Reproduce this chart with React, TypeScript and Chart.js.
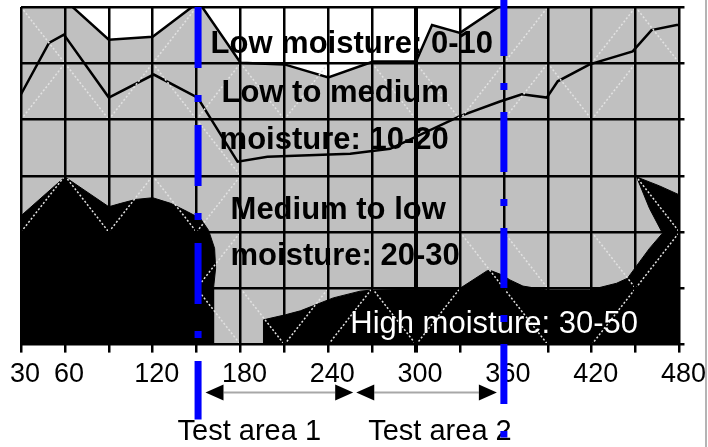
import React, { useEffect, useRef } from 'react';
import { Chart, registerables } from 'chart.js';

Chart.register(...registerables);

// ---- axis ----
const xMin = 30;
const xMax = 480;
const xStep = 30;
const shownTickLabels = [30, 60, 120, 180, 240, 300, 360, 420, 480];
const thickGridAt = 300;

// ---- boundary between "Low moisture" (white) and the grey zones ----
const lowBoundaryX = [30, 61.4, 90, 120, 151.4, 180, 210, 240, 270.7, 300, 310.9, 330, 358.6, 384.5, 480];
const lowBoundaryY = [-8, -0.9, 5.8, 5.3, -0.9, 9.9, 10.2, 12.5, 9.7, 9.7, 3.2, 4.6, -0.4, -4.8, -8];

// ---- line between "Low to medium" and "Medium to low" ----
const midLineX = [30, 49.1, 59.3, 90, 120.7, 150.7, 178, 198.4, 255, 282.3, 330, 357.3, 372.3, 389.3, 396.8, 418.6, 448, 460.9, 478, 480];
const midLineY = [15.5, 6.4, 4.9, 16.1, 12, 16.1, 27.5, 26.6, 26.1, 25.2, 19.4, 16.8, 15.5, 16.1, 13.2, 10.2, 7.9, 4.1, 3.2, 3.2];

// ---- boundary of "High moisture" (black) zone ----
const highBoundaryX = [30, 60, 90, 98.2, 108.4, 120, 132.3, 143.9, 152.7, 158.2, 162.3, 163, 161.6, 161.6, 195.7, 195.7, 210.7, 220.9, 243.4, 261.8, 270, 330, 348.4, 350.5, 358.6, 364.1, 373, 389.3, 418.6, 437, 444.5, 459.5, 468.4, 459.5, 450.7, 466.4, 480];
const highBoundaryY = [37.1, 30.2, 35.5, 34.9, 34.2, 33.9, 34.9, 36.4, 37.6, 39.7, 42.9, 46.4, 49.9, 60, 60, 55.6, 54.7, 54, 51.7, 50.5, 50.3, 50, 46.9, 46.8, 47.6, 48.5, 49.6, 50.3, 50.3, 49.1, 48.2, 42.9, 40.2, 35.8, 30.2, 31.8, 33.4];

// ---- faint surface mesh diagonals per grid row (a = rising, d = falling, . = none) ----
const meshRows = [
  'd..a.......a.ad',
  'adadada.ddaada.',
  '....d..........',
  'adada.........d',
  '....a.....dd.da',
  '....ddaada.d.a.',
];
const meshRowStep = 10;

// ---- zone labels ----
const zoneLabels = ['Low moisture: 0-10', 'Low to medium', 'moisture: 10-20', 'Medium to low', 'moisture: 20-30'];
const zoneLabelX = [159.5, 167, 165.7, 173.2, 173.2];
const zoneLabelY = [8.1, 16.9, 25.2, 37.6, 45.9];
const highLabel = 'High moisture: 30-50';
const highLabelX = 255;
const highLabelY = 57.9;

// ---- test areas ----
const testLineX = [151, 360];
const areaNames = ['Test area 1', 'Test area 2'];
const areaArrowFrom = [156.1, 259.1];
const areaArrowTo = [257, 355.2];
const areaLabelX = [137, 267.3];

const toPoints = (xs: number[], ys: number[]) => xs.map((x, i) => ({ x, y: ys[i] }));

const meshPoints = (() => {
  const pts: { x: number; y: number | null }[] = [];
  meshRows.forEach((row, r) => {
    row.split('').forEach((c, col) => {
      if (c === '.') return;
      const x0 = xMin + col * xStep;
      const x1 = x0 + xStep;
      const top = r * meshRowStep;
      const bot = (r + 1) * meshRowStep;
      if (c === 'a') {
        pts.push({ x: x0, y: bot }, { x: x1, y: top });
      } else {
        pts.push({ x: x0, y: top }, { x: x1, y: bot });
      }
      pts.push({ x: x1, y: null });
    });
  });
  return pts;
})();

const FONT = '"Liberation Sans", Arial, sans-serif';

function drawArrow(ctx: CanvasRenderingContext2D, x1: number, x2: number, y: number) {
  const hl = 18;
  const hh = 8;
  ctx.save();
  ctx.strokeStyle = '#a8a8a8';
  ctx.lineWidth = 2;
  ctx.beginPath();
  ctx.moveTo(x1 + hl, y);
  ctx.lineTo(x2 - hl, y);
  ctx.stroke();
  ctx.fillStyle = '#000';
  ctx.beginPath();
  ctx.moveTo(x1, y);
  ctx.lineTo(x1 + hl, y - hh);
  ctx.lineTo(x1 + hl, y + hh);
  ctx.closePath();
  ctx.fill();
  ctx.beginPath();
  ctx.moveTo(x2, y);
  ctx.lineTo(x2 - hl, y - hh);
  ctx.lineTo(x2 - hl, y + hh);
  ctx.closePath();
  ctx.fill();
  ctx.restore();
}

const annotationPlugin = {
  id: 'moistureAnnotations',
  beforeDraw(chart: any) {
    const { ctx, chartArea: a } = chart;
    ctx.save();
    ctx.fillStyle = '#c0c0c0';
    ctx.fillRect(a.left, a.top, a.right - a.left, a.bottom - a.top);
    ctx.restore();
  },
  afterDraw(chart: any) {
    const { ctx, chartArea: a } = chart;
    const xs = chart.scales.x;
    const ys = chart.scales.y;
    ctx.save();
    // zone labels
    ctx.textBaseline = 'alphabetic';
    ctx.textAlign = 'left';
    ctx.fillStyle = '#000';
    ctx.font = `bold 31px ${FONT}`;
    zoneLabels.forEach((t, i) => {
      ctx.fillText(t, xs.getPixelForValue(zoneLabelX[i]), ys.getPixelForValue(zoneLabelY[i]));
    });
    ctx.fillStyle = '#fff';
    ctx.font = `31px ${FONT}`;
    ctx.fillText(highLabel, xs.getPixelForValue(highLabelX), ys.getPixelForValue(highLabelY));

    // test area arrows and names
    const arrowY = a.bottom + 48;
    areaArrowFrom.forEach((f, i) => {
      drawArrow(ctx, xs.getPixelForValue(f), xs.getPixelForValue(areaArrowTo[i]), arrowY);
    });
    ctx.fillStyle = '#000';
    ctx.font = `29px ${FONT}`;
    areaNames.forEach((t, i) => {
      ctx.fillText(t, xs.getPixelForValue(areaLabelX[i]), a.bottom + 95);
    });

    // blue dash-dot test lines
    ctx.strokeStyle = '#0000ff';
    ctx.lineWidth = 7;
    ctx.lineCap = 'butt';
    const starts = [a.top, 0];
    const ends = [a.bottom + 75, a.bottom + 93];
    const dashes = [[61, 27, 7, 23], [60, 27, 7, 22]];
    const offsets = [0, 4];
    testLineX.forEach((v, i) => {
      const px = xs.getPixelForValue(v);
      ctx.setLineDash(dashes[i]);
      ctx.lineDashOffset = offsets[i];
      ctx.beginPath();
      ctx.moveTo(px, starts[i]);
      ctx.lineTo(px, ends[i]);
      ctx.stroke();
    });
    ctx.setLineDash([]);

    // right frame edge
    ctx.fillStyle = '#b4b4b4';
    ctx.fillRect(705, 0, 2, 447);
    ctx.restore();
  },
};

export default function App() {
  const canvasRef = useRef<HTMLCanvasElement>(null);

  useEffect(() => {
    const canvas = canvasRef.current;
    if (!canvas) return;
    const chart = new Chart(canvas, {
      type: 'line',
      data: {
        datasets: [
          {
            label: 'Low moisture',
            data: toPoints(lowBoundaryX, lowBoundaryY),
            borderColor: '#000',
            borderWidth: 2.5,
            backgroundColor: '#ffffff',
            fill: { value: 0 },
            pointRadius: 0,
            tension: 0,
            order: 4,
          },
          {
            label: 'High moisture',
            data: toPoints(highBoundaryX, highBoundaryY),
            borderColor: '#000',
            borderWidth: 1,
            backgroundColor: '#000000',
            fill: { value: 60 },
            pointRadius: 0,
            tension: 0,
            order: 3,
          },
          {
            label: 'Medium boundary',
            data: toPoints(midLineX, midLineY),
            borderColor: '#000',
            borderWidth: 2.5,
            fill: false,
            pointRadius: 0,
            tension: 0,
            order: 2,
          },
          {
            label: 'Mesh',
            data: meshPoints as any,
            borderColor: '#e2e2e2',
            borderWidth: 1.5,
            borderDash: [2, 2],
            fill: false,
            pointRadius: 0,
            spanGaps: false,
            tension: 0,
            order: 1,
          },
        ],
      },
      options: {
        responsive: false,
        animation: false,
        devicePixelRatio: 1,
        layout: { padding: { left: 20, right: 23, top: 7, bottom: 50 } },
        plugins: { legend: { display: false }, tooltip: { enabled: false } },
        scales: {
          x: {
            type: 'linear',
            min: xMin,
            max: xMax,
            border: { display: false },
            grid: {
              color: '#000',
              lineWidth: (c: any) => (c.tick && c.tick.value === thickGridAt ? 4 : 2.5),
              tickLength: 8,
              z: 1,
            },
            ticks: {
              stepSize: xStep,
              autoSkip: false,
              maxRotation: 0,
              labelOffset: 4,
              padding: 6,
              color: '#000',
              font: { family: FONT, size: 27 },
              callback: (v: any) => (shownTickLabels.includes(Number(v)) ? String(v) : ''),
            },
          },
          y: {
            type: 'linear',
            position: 'right',
            reverse: true,
            min: 0,
            max: 60,
            border: { display: false },
            grid: { color: '#000', lineWidth: 2.5, tickLength: 5, z: 1 },
            ticks: { stepSize: 10, display: false },
          },
        },
      },
      plugins: [annotationPlugin],
    } as any);
    return () => chart.destroy();
  }, []);

  return (
    <div style={{ position: 'absolute', left: 0, top: 0, width: 708, height: 447 }}>
      <canvas ref={canvasRef} width={708} height={447} style={{ display: 'block' }} />
    </div>
  );
}
